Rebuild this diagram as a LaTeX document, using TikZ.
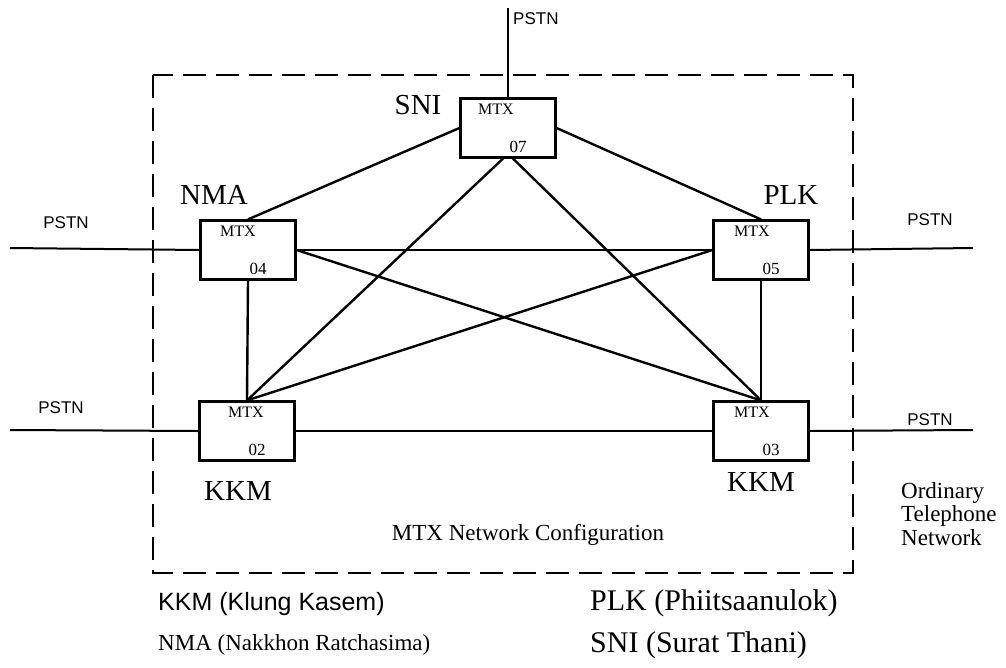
\documentclass[tikz,border=0pt]{standalone}
\usepackage{fontspec}
\setmainfont{Liberation Serif}
\newfontfamily\arialfont{Liberation Sans}

\begin{document}
\begin{tikzpicture}[
  x=1pt, y=-1pt,
  every node/.style={inner sep=0pt},
  mtx/.style 2 args={draw, line width=2.2pt, minimum width=95pt, minimum height=59pt,
    label={[boxtop, xshift=#1]north:MTX},
    label={[boxnum]south:#2}},
  boxtop/.style={anchor=north, yshift=-6pt, font=\fontsize{16}{16}\selectfont},
  boxnum/.style={anchor=south, xshift=10pt, yshift=6pt, font=\fontsize{17}{17}\selectfont},
  site/.style={font=\fontsize{29}{29}\selectfont},
  pstnlbl/.style={font=\arialfont\fontsize{17}{17}\selectfont},
  link/.style={line width=2.4pt},
  trunk/.style={line width=2pt},
  frame/.style={line width=2pt, dash pattern=on 23pt off 10pt},
  note/.style={font=\fontsize{23}{23.5}\selectfont, align=left},
  key/.style={anchor=west}
]
\useasboundingbox (0,0) rectangle (1006,667);

\draw[frame] (153,75) rectangle (853,573);

\node[mtx={-12pt}{07}] (SNI) at (508,128) {};
\node[mtx={-10pt}{04}] (NMA) at (248,250) {};
\node[mtx={-9pt}{05}]  (PLK) at (761,250) {};
\node[mtx={-1pt}{02}]  (KKMa) at (247,431) {};
\node[mtx={-9pt}{03}]  (KKMb) at (761,431) {};

\coordinate (pstnT) at (508,8);
\coordinate (pstnL1) at (10,248);
\coordinate (pstnL2) at (10,430);
\coordinate (pstnR1) at (973,248);
\coordinate (pstnR2) at (973,430);

\draw[trunk] (pstnT) -- (SNI.north);
\draw[trunk] (pstnL1) -- (NMA.west);
\draw[trunk] (pstnL2) -- (KKMa.west);
\draw[trunk] (PLK.east) -- (pstnR1);
\draw[trunk] (KKMb.east) -- (pstnR2);

\draw[link] (SNI.west) -- (NMA.north);
\draw[link] (SNI.east) -- (PLK.north);
\draw[link] ([xshift=-5pt]SNI.south) -- (KKMa.north);
\draw[link] ([xshift=5pt]SNI.south) -- (KKMb.north);
\draw[link] (NMA.east) -- (PLK.west);
\draw[link] (NMA.east) -- (KKMb.north);
\draw[link] (PLK.west) -- (KKMa.north);
\draw[link] (NMA.south) -- (KKMa.north);
\draw[link] (PLK.south) -- (KKMb.north);
\draw[link] (KKMa.east) -- (KKMb.west);

\node[site] (tSNI) at (418,105) {SNI};
\node[site] (tNMA) at (214,195) {NMA};
\node[site] (tPLK) at (791,195) {PLK};
\node[site] (tKKMa) at (238,491) {KKM};
\node[site] (tKKMb) at (761,482) {KKM};

\node[pstnlbl, anchor=west] (pT) at (513,19) {PSTN};
\node[pstnlbl] (pL1) at (66,223) {PSTN};
\node[pstnlbl] (pL2) at (61,408) {PSTN};
\node[pstnlbl] (pR1) at (930,220) {PSTN};
\node[pstnlbl] (pR2) at (930,420) {PSTN};

\node[note, anchor=north west] (otn) at (901,482) {Ordinary\\Telephone\\Network};
\node[font=\fontsize{23}{23}\selectfont] (cap) at (528,535) {MTX Network Configuration};

\node[key, font=\arialfont\fontsize{25}{25}\selectfont] (kKKM) at (158,604) {KKM (Klung Kasem)};
\node[key, font=\fontsize{23}{23}\selectfont] (kNMA) at (158,645) {NMA (Nakkhon Ratchasima)};
\node[key, font=\fontsize{30}{30}\selectfont] (kPLK) at (590,603) {PLK (Phiitsaanulok)};
\node[key, font=\fontsize{30}{30}\selectfont] (kSNI) at (590,645) {SNI (Surat Thani)};
\end{tikzpicture}
\end{document}
